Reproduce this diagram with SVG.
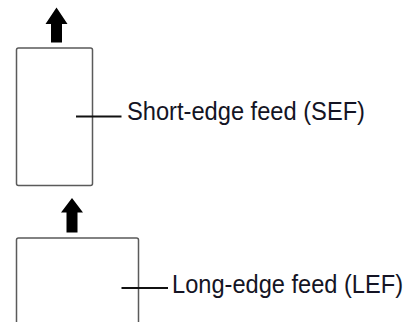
<svg xmlns="http://www.w3.org/2000/svg" width="417" height="322" viewBox="0 0 417 322">
<style>
.paper{fill:#fff;stroke:#5a5a5a;stroke-width:1.5}
.arrow{fill:#000}
.lead{stroke:#111;stroke-width:2.2;fill:none}
.lbl{font-family:"Liberation Sans",Arial,sans-serif;font-size:25px;fill:#141424}
</style>
<rect width="417" height="322" fill="#fff"/>
<g id="sef">
<polygon class="arrow" points="56.5,7.5 67.5,24 62,24 62,42.5 51,42.5 51,24 45.5,24"/>
<rect class="paper" x="16.5" y="48" width="76" height="137.5" rx="2"/>
<text class="lbl" x="127" y="120" textLength="238" lengthAdjust="spacingAndGlyphs">Short-edge feed (SEF)</text>
</g>
<g id="lef">
<polygon class="arrow" points="72,198 83,212.5 77.5,212.5 77.5,232.5 66.5,232.5 66.5,212.5 61,212.5"/>
<rect class="paper" x="16.5" y="238" width="122" height="120" rx="2"/>
<text class="lbl" x="172" y="292.5" textLength="231" lengthAdjust="spacingAndGlyphs">Long-edge feed (LEF)</text>
</g>
<g id="connectors">
<line class="lead" x1="76" y1="116.5" x2="121.5" y2="116.5"/>
<line class="lead" x1="121.5" y1="288" x2="168" y2="288"/>
</g>
</svg>
